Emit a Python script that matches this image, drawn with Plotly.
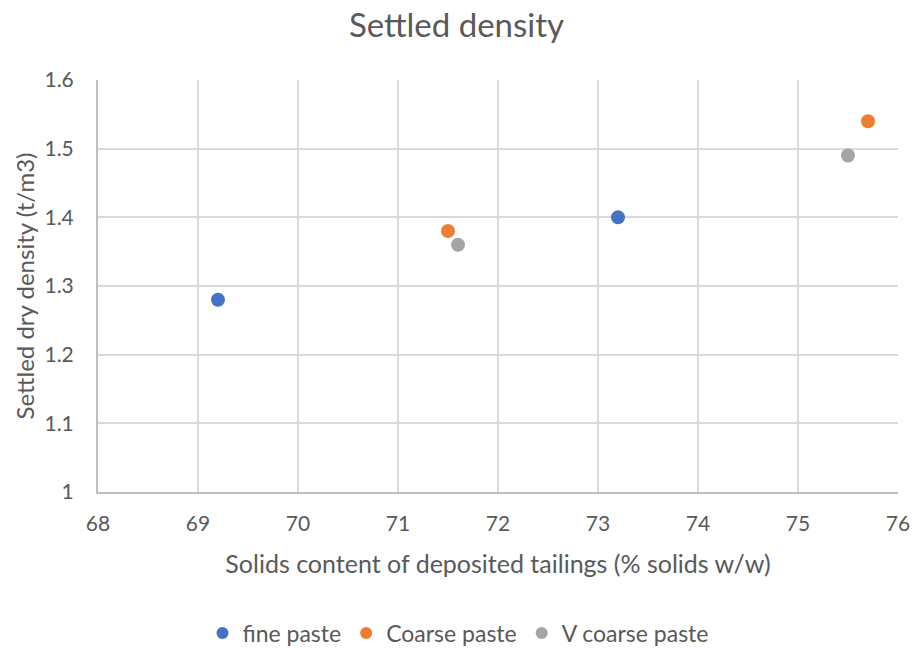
import plotly.graph_objects as go

fine_x = [69.2, 73.2]
fine_y = [1.28, 1.40]
coarse_x = [71.5, 75.7]
coarse_y = [1.38, 1.54]
vcoarse_x = [71.6, 75.5]
vcoarse_y = [1.36, 1.49]

x_ticks = [68, 69, 70, 71, 72, 73, 74, 75, 76]
y_ticks = [1.0, 1.1, 1.2, 1.3, 1.4, 1.5, 1.6]
y_tick_text = ["1", "1.1", "1.2", "1.3", "1.4", "1.5", "1.6"]

FONT = "Lato, Open Sans, sans-serif"
TXT = "#595959"

fig = go.Figure()
for name, xs, ys, col in [
    ("fine paste", fine_x, fine_y, "#4472C4"),
    ("Coarse paste", coarse_x, coarse_y, "#ED7D31"),
    ("V coarse paste", vcoarse_x, vcoarse_y, "#A5A5A5"),
]:
    fig.add_trace(go.Scatter(x=xs, y=ys, mode="markers", name=name,
                             marker=dict(color=col, size=14, line=dict(width=0))))

fig.update_layout(
    width=913, height=648,
    paper_bgcolor="white", plot_bgcolor="white",
    margin=dict(l=98, r=15, t=80, b=156),
    font=dict(family=FONT, color=TXT, size=21),
    title=dict(text="Settled density", x=0.5, xanchor="center", y=0.961, yanchor="middle",
               font=dict(size=33, color=TXT, family=FONT)),
    xaxis=dict(range=[68, 76], tickvals=x_ticks, showgrid=True, gridcolor="#D9D9D9", gridwidth=2,
               showline=True, linecolor="#BFBFBF", linewidth=2, zeroline=False, automargin=False,
               ticks="", ticklabelstandoff=12, tickfont=dict(size=21),
               title=dict(text="Solids content of deposited tailings (% solids w/w)", standoff=21,
                          font=dict(size=25, color=TXT))),
    yaxis=dict(range=[1.0, 1.6], tickvals=y_ticks, ticktext=y_tick_text, showgrid=True,
               gridcolor="#D9D9D9", gridwidth=2, showline=True, linecolor="#BFBFBF", linewidth=2,
               zeroline=False, automargin=False, ticks="", ticklabelstandoff=18, tickfont=dict(size=21),
               title=dict(text="Settled dry density (t/m3)", standoff=3, font=dict(size=24, color=TXT))),
    legend=dict(orientation="h", x=0.45, xanchor="center", xref="paper",
                yref="container", y=0.023, yanchor="middle",
                font=dict(size=23, color=TXT), itemsizing="constant", tracegroupgap=0),
    showlegend=True,
)

fig.write_html("out.html", config={"displayModeBar": False},
               post_script="document.body.style.margin='0';document.body.style.overflow='hidden';")
